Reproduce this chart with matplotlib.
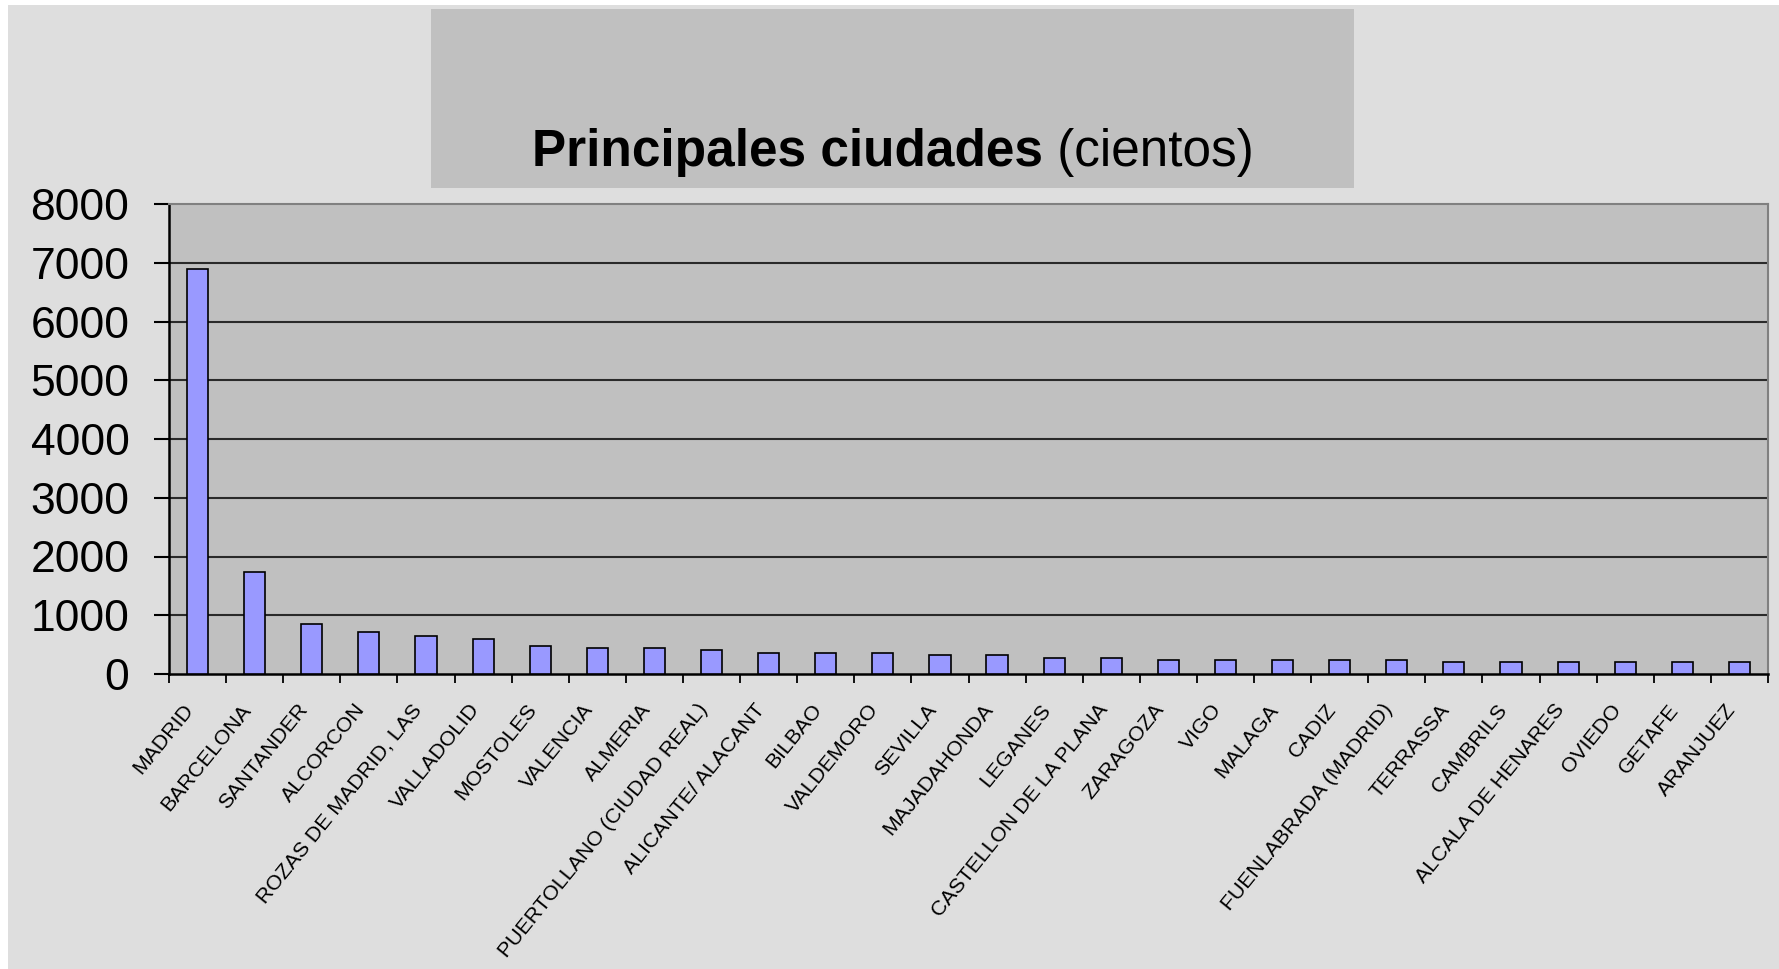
import matplotlib
matplotlib.use("Agg")
import matplotlib.pyplot as plt
from matplotlib.patches import Rectangle
import numpy as np

cities = ["MADRID", "BARCELONA", "SANTANDER", "ALCORCON", "ROZAS DE MADRID, LAS",
          "VALLADOLID", "MOSTOLES", "VALENCIA", "ALMERIA", "PUERTOLLANO (CIUDAD REAL)",
          "ALICANTE/ ALACANT", "BILBAO", "VALDEMORO", "SEVILLA", "MAJADAHONDA",
          "LEGANES", "CASTELLON DE LA PLANA", "ZARAGOZA", "VIGO", "MALAGA", "CADIZ",
          "FUENLABRADA (MADRID)", "TERRASSA", "CAMBRILS", "ALCALA DE HENARES",
          "OVIEDO", "GETAFE", "ARANJUEZ"]
values = [6900, 1730, 850, 720, 640, 600, 480, 440, 440, 405, 365, 365, 365, 320,
          320, 280, 280, 240, 240, 240, 240, 240, 200, 200, 200, 200, 200, 200]
yticks = [0, 1000, 2000, 3000, 4000, 5000, 6000, 7000, 8000]

W, H, DPI = 1779, 969, 100
fig = plt.figure(figsize=(W / DPI, H / DPI), dpi=DPI, facecolor="white")

# page background (thin white strip at left/top)
fig.add_artist(Rectangle((8 / W, 0), 1, 1 - 5 / H, transform=fig.transFigure,
                         facecolor="#dedede", edgecolor="none", zorder=-10))
# title box
fig.add_artist(Rectangle((431 / W, 1 - 188 / H), 923 / W, 179 / H,
                         transform=fig.transFigure, facecolor="#c0c0c0",
                         edgecolor="none", zorder=-5))

ax = fig.add_axes([169 / W, 1 - 674 / H, (1768 - 169) / W, (674 - 204) / H])
ax.set_facecolor("#c0c0c0")
x = np.arange(len(cities))
ax.bar(x, values, width=0.37, color="#9999ff", edgecolor="black", linewidth=1.2, zorder=3)

ax.set_xlim(-0.5, len(cities) - 0.5)
ax.set_ylim(0, 8000)
ax.set_yticks(yticks)
ax.set_yticklabels([str(v) for v in yticks], fontfamily="Liberation Sans", fontsize=32)
ax.tick_params(axis="y", length=11, width=1.5, pad=17.5, color="black")
for v in yticks[1:-1]:
    ax.axhline(v, color="#2a2a2a", linewidth=1.5, zorder=1)

ax.set_xticks(x)
ax.set_xticklabels(cities, rotation=51, ha="right", va="top",
                   fontfamily="Liberation Sans", fontsize=15.3)
ax.tick_params(axis="x", which="major", length=0, pad=19)
ax.set_xticks(np.arange(len(cities) + 1) - 0.5, minor=True)
ax.tick_params(axis="x", which="minor", length=6.5, width=1.3, color="black")

for s in ["left", "bottom"]:
    ax.spines[s].set_color("black")
    ax.spines[s].set_linewidth(1.8)
for s in ["top", "right"]:
    ax.spines[s].set_color("#808080")
    ax.spines[s].set_linewidth(1.5)

# title: bold part + regular part, centred over box
fig.canvas.draw()
r = fig.canvas.get_renderer()
ty = 1 - 166 / H
t1 = fig.text(0, ty, "Principales ciudades", fontfamily="Liberation Sans",
              fontweight="bold", fontsize=37, ha="left", va="baseline")
t2 = fig.text(0, ty, " (cientos)", fontfamily="Liberation Sans",
              fontsize=37, ha="left", va="baseline")
w1 = t1.get_window_extent(r).width
w2 = t2.get_window_extent(r).width
start = 893 - (w1 + w2) / 2
t1.set_x(start / W)
t2.set_x((start + w1) / W)

fig.savefig("out.png", dpi=DPI, facecolor=fig.get_facecolor())
